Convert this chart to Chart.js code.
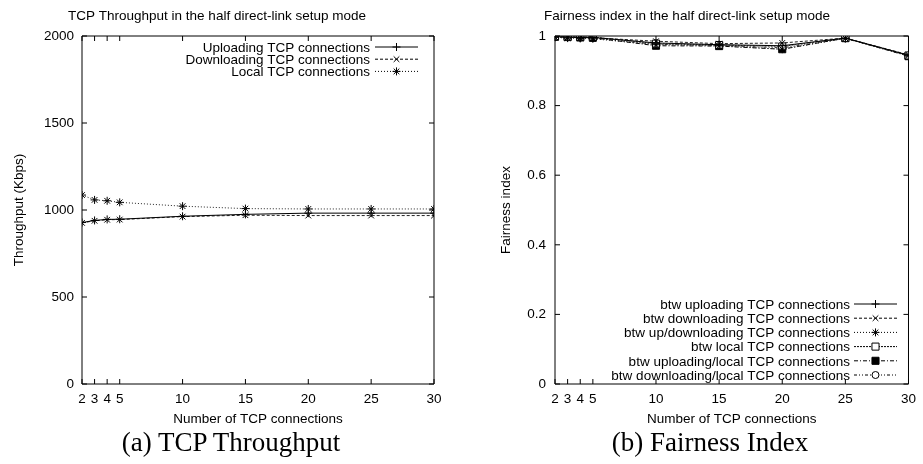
<!DOCTYPE html>
<html>
<head>
<meta charset="utf-8">
<script src="https://cdn.jsdelivr.net/npm/chart.js@4.4.1/dist/chart.umd.min.js"></script>
<style>
  html, body { margin: 0; padding: 0; background: #fff; }
  #page { position: relative; width: 923px; height: 464px; overflow: hidden; background: #fff; }
  .panel { position: absolute; top: 0; height: 430px; }
  .caption { position: absolute; top: 429px; font: 27px/27px "Liberation Serif", "Times New Roman", serif; color: #000; white-space: nowrap; transform: translateX(-50%); }
</style>
</head>
<body>
<div id="page">
  <div class="panel" style="left:0; width:460px;"><canvas id="throughputChart" width="460" height="430"></canvas></div>
  <div class="panel" style="left:460px; width:463px;"><canvas id="fairnessChart" width="463" height="430"></canvas></div>
  <div class="caption" style="left:231px;">(a) TCP Throughput</div>
  <div class="caption" style="left:710px;">(b) Fairness Index</div>
</div>
<script>
// number of TCP connections (x values)
const connections = [2, 3, 4, 5, 10, 15, 20, 25, 30];
const xTicks = [2, 3, 4, 5, 10, 15, 20, 25, 30];

// throughput in Kbps
const uploadKbps = [928, 940, 946, 947, 964, 975, 982, 982, 982];
const downloadKbps = [926, 938, 944, 945, 962, 970, 968, 968, 968];
const localKbps = [1086, 1058, 1053, 1044, 1022, 1008, 1006, 1006, 1006];
const throughputTicks = [0, 500, 1000, 1500, 2000];

// fairness index
const fairUp = [0.998, 0.997, 0.996, 0.996, 0.980, 0.975, 0.972, 0.994, 0.945];
const fairDown = [0.997, 0.996, 0.995, 0.995, 0.985, 0.978, 0.980, 0.994, 0.946];
const fairUpDown = [0.996, 0.994, 0.993, 0.992, 0.975, 0.972, 0.962, 0.993, 0.943];
const fairLocal = [0.999, 0.998, 0.998, 0.997, 0.978, 0.974, 0.970, 0.994, 0.944];
const fairUpLocal = [0.998, 0.997, 0.996, 0.995, 0.972, 0.971, 0.962, 0.994, 0.942];
const fairDownLocal = [0.997, 0.996, 0.995, 0.994, 0.976, 0.973, 0.966, 0.993, 0.944];
const fairnessTicks = [0, 0.2, 0.4, 0.6, 0.8, 1];

const FONT = '"Liberation Sans", Arial, Helvetica, sans-serif';
Chart.defaults.font.family = FONT;
Chart.defaults.font.size = 13.5;
Chart.defaults.color = '#000';

function points(ys) {
  return connections.map((x, i) => ({ x: x, y: ys[i] }));
}

function series(label, ys, style) {
  return Object.assign({
    label: label,
    data: points(ys),
    borderColor: '#000',
    backgroundColor: '#000',
    pointBorderColor: '#000',
    pointBackgroundColor: '#000',
    borderWidth: 1,
    pointBorderWidth: 1,
    pointRadius: 4,
    pointStyle: 'cross',
    borderDash: [],
    tension: 0,
    fill: false,
  }, style);
}

// gnuplot style frame with inward ticks on all four sides
const frameTicks = {
  id: 'frameTicks',
  beforeDatasetsDraw(chart) {
    const { ctx, chartArea: a } = chart;
    const xs = chart.scales.x, ys = chart.scales.y;
    const len = 5;
    ctx.save();
    ctx.strokeStyle = '#000';
    ctx.lineWidth = 1;
    ctx.beginPath();
    ctx.rect(a.left, a.top, a.right - a.left, a.bottom - a.top);
    xs.ticks.forEach((t) => {
      const px = xs.getPixelForValue(t.value);
      ctx.moveTo(px, a.bottom); ctx.lineTo(px, a.bottom - len);
      ctx.moveTo(px, a.top); ctx.lineTo(px, a.top + len);
    });
    ys.ticks.forEach((t) => {
      const py = ys.getPixelForValue(t.value);
      ctx.moveTo(a.left, py); ctx.lineTo(a.left + len, py);
      ctx.moveTo(a.right, py); ctx.lineTo(a.right - len, py);
    });
    ctx.stroke();
    ctx.restore();
  },
};

// gnuplot style key: text right aligned, line sample with marker on the right
const gnuKey = {
  id: 'gnuKey',
  afterDraw(chart, args, opts) {
    const ctx = chart.ctx;
    ctx.save();
    ctx.font = '13.5px ' + FONT;
    ctx.textAlign = 'right';
    ctx.textBaseline = 'middle';
    chart.data.datasets.forEach((ds, i) => {
      const y = opts.top + i * opts.row;
      ctx.fillStyle = '#000';
      ctx.fillText(ds.label, opts.textRight, y + 1);
      ctx.strokeStyle = '#000';
      ctx.lineWidth = 1;
      ctx.setLineDash(ds.borderDash || []);
      ctx.beginPath();
      ctx.moveTo(opts.lineStart, y);
      ctx.lineTo(opts.lineEnd, y);
      ctx.stroke();
      ctx.setLineDash([]);
      ctx.fillStyle = ds.pointBackgroundColor;
      Chart.helpers.drawPoint(ctx, {
        pointStyle: ds.pointStyle,
        radius: ds.pointRadius,
        borderWidth: 1,
        rotation: 0,
      }, (opts.lineStart + opts.lineEnd) / 2, y);
    });
    ctx.restore();
  },
};

function baseOptions(cfg) {
  return {
    responsive: false,
    animation: false,
    layout: { padding: { left: 0, right: cfg.rightPad, top: 0, bottom: 0 } },
    plugins: {
      legend: { display: false },
      tooltip: { enabled: false },
      title: {
        display: true,
        text: cfg.title,
        font: { size: 13.5, weight: 'normal' },
        padding: { top: 8, bottom: 11.8 },
      },
      gnuKey: cfg.key,
    },
    scales: {
      x: {
        type: 'linear',
        min: 2,
        max: 30,
        afterBuildTicks: (s) => { s.ticks = xTicks.map((v) => ({ value: v })); },
        afterFit: (s) => { s.height = 46; },
        grid: { display: false, drawTicks: false },
        border: { display: false },
        ticks: { autoSkip: false, maxRotation: 0, padding: 7, callback: (v) => String(v) },
        title: { display: true, text: 'Number of TCP connections', padding: { top: 0, bottom: 3 } },
      },
      y: {
        type: 'linear',
        min: cfg.yTicks[0],
        max: cfg.yTicks[cfg.yTicks.length - 1],
        afterBuildTicks: (s) => { s.ticks = cfg.yTicks.map((v) => ({ value: v })); },
        afterFit: (s) => { s.width = cfg.yWidth; },
        grid: { display: false, drawTicks: false },
        border: { display: false },
        ticks: { padding: cfg.tickPad, callback: (v) => String(v) },
        title: { display: true, text: cfg.yTitle, padding: { top: cfg.yTitlePad, bottom: 0 } },
      },
    },
  };
}

new Chart(document.getElementById('throughputChart'), {
  type: 'line',
  data: {
    datasets: [
      series('Uploading TCP connections', uploadKbps, { pointStyle: 'cross' }),
      series('Downloading TCP connections', downloadKbps, { pointStyle: 'crossRot', borderDash: [3, 2], borderColor: '#222' }),
      series('Local TCP connections', localKbps, { pointStyle: 'star', borderDash: [1, 2], borderColor: '#222' }),
    ],
  },
  options: baseOptions({
    title: 'TCP Throughput in the half direct-link setup mode',
    yTitle: 'Throughput (Kbps)',
    yTicks: throughputTicks,
    yWidth: 82,
    rightPad: 26,
    tickPad: 8,
    yTitlePad: 11,
    key: { top: 47, row: 12.2, textRight: 370, lineStart: 375, lineEnd: 418 },
  }),
  plugins: [frameTicks, gnuKey],
});

new Chart(document.getElementById('fairnessChart'), {
  type: 'line',
  data: {
    datasets: [
      series('btw uploading TCP connections', fairUp, { pointStyle: 'cross' }),
      series('btw downloading TCP connections', fairDown, { pointStyle: 'crossRot', borderDash: [3, 2], borderColor: '#222' }),
      series('btw up/downloading TCP connections', fairUpDown, { pointStyle: 'star', borderDash: [1, 2], borderColor: '#222' }),
      series('btw local TCP connections', fairLocal, { pointStyle: 'rect', pointRadius: 5, borderDash: [2, 1], pointBackgroundColor: '#fff', borderColor: '#333' }),
      series('btw uploading/local TCP connections', fairUpLocal, { pointStyle: 'rect', pointRadius: 5, borderDash: [4, 2, 1, 2] }),
      series('btw downloading/local TCP connections', fairDownLocal, { pointStyle: 'circle', pointRadius: 3.5, borderDash: [3, 2, 1, 2, 1, 2], pointBackgroundColor: '#fff', borderColor: '#333' }),
    ],
  },
  options: baseOptions({
    title: 'Fairness index in the half direct-link setup mode',
    yTitle: 'Fairness index',
    yTicks: fairnessTicks,
    yWidth: 95,
    rightPad: 9,
    tickPad: 9,
    yTitlePad: 38,
    key: { top: 304, row: 14.2, textRight: 390, lineStart: 394, lineEnd: 437 },
  }),
  plugins: [frameTicks, gnuKey],
});
</script>
</body>
</html>
